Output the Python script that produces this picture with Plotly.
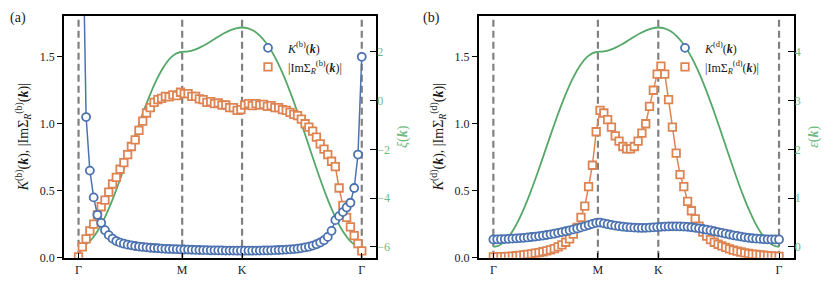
import numpy as np
import plotly.graph_objects as go

# ---------------- data ----------------
# high-symmetry path (path coordinate: |GM| = sqrt(3), |MK| = 1, |KG| = 2)
tick_pos = [0.0, 1.732, 2.732, 4.732]
tick_text = ["Γ", "M", "K", "Γ"]

# k-grid of the sampled points along Γ-M-K-Γ
k_pts = np.linspace(0.0, 4.732, 76)

# dispersion curve samples (path coordinate)
green_k = [0.0, 0.0866, 0.1732, 0.2598, 0.3464, 0.433, 0.5196, 0.6062, 0.6928, 0.7794, 0.866,
           0.9526, 1.0392, 1.1258, 1.2124, 1.299, 1.3856, 1.4722, 1.5588, 1.6454, 1.732,
           1.832, 1.932, 2.032, 2.132, 2.232, 2.332, 2.432, 2.532, 2.632, 2.732,
           2.832, 2.932, 3.032, 3.132, 3.232, 3.332, 3.432, 3.532, 3.632, 3.732,
           3.832, 3.932, 4.032, 4.132, 4.232, 4.332, 4.432, 4.532, 4.632, 4.732]
xi_vals = [-6.0, -5.951, -5.804, -5.564, -5.236, -4.828, -4.351, -3.816, -3.236, -2.626, -2.0,
           -1.374, -0.764, -0.184, 0.351, 0.828, 1.236, 1.564, 1.804, 1.951, 2.0,
           2.022, 2.085, 2.186, 2.316, 2.464, 2.618, 2.764, 2.885, 2.969, 3.0,
           2.965, 2.854, 2.659, 2.374, 2.0, 1.538, 0.996, 0.382, -0.289, -1.0,
           -1.733, -2.467, -3.182, -3.854, -4.464, -4.992, -5.422, -5.739, -5.934, -6.0]
eps_vals = [0.0, 0.0245, 0.098, 0.218, 0.382, 0.586, 0.8245, 1.092, 1.382, 1.687, 2.0,
            2.313, 2.618, 2.908, 3.1755, 3.414, 3.618, 3.782, 3.902, 3.9755, 4.0,
            4.011, 4.0425, 4.093, 4.158, 4.232, 4.309, 4.382, 4.4425, 4.4845, 4.5,
            4.4825, 4.427, 4.3295, 4.187, 4.0, 3.769, 3.498, 3.191, 2.8555, 2.5,
            2.1335, 1.7665, 1.409, 1.073, 0.768, 0.504, 0.289, 0.1305, 0.033, 0.0]

# panel (a)
K_b = [6.0, 2.7, 1.05, 0.65, 0.45, 0.32, 0.26, 0.205, 0.168, 0.142,
       0.124, 0.112, 0.104, 0.097, 0.092, 0.087, 0.083, 0.080, 0.077, 0.074,
       0.072, 0.070, 0.068, 0.066, 0.065, 0.064, 0.063, 0.062, 0.061, 0.060,
       0.059, 0.058, 0.057, 0.056, 0.056, 0.055, 0.055, 0.054, 0.054, 0.053,
       0.053, 0.053, 0.052, 0.052, 0.052, 0.052, 0.052, 0.053, 0.053, 0.054,
       0.054, 0.055, 0.056, 0.057, 0.058, 0.060, 0.062, 0.064, 0.067, 0.071,
       0.076, 0.082, 0.090, 0.100, 0.113, 0.130, 0.155, 0.200, 0.280, 0.310,
       0.340, 0.375, 0.410, 0.520, 0.770, 1.500]
Sigma_b = [0.005, 0.08, 0.14, 0.20, 0.25, 0.32, 0.38, 0.43, 0.49, 0.55,
           0.60, 0.66, 0.71, 0.77, 0.83, 0.88, 0.95, 1.02, 1.08, 1.12,
           1.16, 1.18, 1.19, 1.205, 1.20, 1.215, 1.21, 1.235, 1.225, 1.225,
           1.205, 1.205, 1.185, 1.18, 1.16, 1.165, 1.15, 1.155, 1.14, 1.14,
           1.12, 1.12, 1.10, 1.105, 1.14, 1.15, 1.135, 1.15, 1.14, 1.145,
           1.13, 1.135, 1.12, 1.12, 1.105, 1.10, 1.085, 1.07, 1.06, 1.035,
           1.00, 0.975, 0.945, 0.90, 0.85, 0.81, 0.77, 0.72, 0.68, 0.52,
           0.39, 0.30, 0.23, 0.165, 0.105, 0.05]

# panel (b)
K_d = [0.136, 0.137, 0.138, 0.139, 0.140, 0.142, 0.144, 0.146, 0.148, 0.151,
       0.154, 0.157, 0.161, 0.165, 0.169, 0.174, 0.179, 0.185, 0.191, 0.197,
       0.204, 0.211, 0.218, 0.226, 0.234, 0.243, 0.252, 0.260, 0.262, 0.256,
       0.250, 0.244, 0.239, 0.235, 0.231, 0.228, 0.226, 0.224, 0.223, 0.222,
       0.223, 0.224, 0.226, 0.228, 0.230, 0.232, 0.233, 0.234, 0.234, 0.233,
       0.232, 0.230, 0.227, 0.223, 0.219, 0.214, 0.209, 0.203, 0.197, 0.191,
       0.185, 0.179, 0.173, 0.167, 0.162, 0.157, 0.152, 0.148, 0.145, 0.142,
       0.140, 0.138, 0.137, 0.136, 0.136, 0.136]
Sigma_d = [0.005, 0.006, 0.007, 0.008, 0.010, 0.012, 0.014, 0.017, 0.020, 0.024,
           0.028, 0.033, 0.038, 0.044, 0.050, 0.058, 0.068, 0.080, 0.096, 0.115,
           0.14, 0.175, 0.225, 0.30, 0.385, 0.53, 0.69, 0.94, 1.10, 1.08,
           1.03, 0.975, 0.91, 0.87, 0.83, 0.812, 0.812, 0.83, 0.87, 0.93,
           1.00, 1.13, 1.25, 1.37, 1.43, 1.37, 1.18, 0.975, 0.78, 0.62,
           0.53, 0.42, 0.35, 0.29, 0.235, 0.19, 0.16, 0.135, 0.115, 0.10,
           0.088, 0.077, 0.065, 0.056, 0.048, 0.042, 0.036, 0.031, 0.027, 0.024,
           0.021, 0.018, 0.015, 0.013, 0.011, 0.01]

# ---------------- style ----------------
BLUE = "#4C72B0"
ORANGE = "#DD8452"
GREEN = "#55A868"
GREEN_TXT = "#6DBA80"
GREY = "#808080"
FONT = "Liberation Serif, DejaVu Serif, serif"
TXT = "#1a1a1a"

kb = "(<b><i>k</i></b>)"

fig = go.Figure()

def add_panel(xa, ya_base, ya_over, green_y, Kv, Sv, lab, legname):
    fig.add_trace(go.Scatter(x=green_k, y=green_y, mode="lines", line=dict(color=GREEN, width=1.8, shape="spline"),
                             xaxis=xa, yaxis=ya_base, showlegend=False, hoverinfo="skip"))
    fig.add_trace(go.Scatter(x=k_pts, y=Sv, mode="lines+markers", line=dict(color=ORANGE, width=1.5),
                             marker=dict(symbol="square", size=7.5, color="white", line=dict(color=ORANGE, width=1.8)),
                             xaxis=xa, yaxis=ya_over, showlegend=False))
    fig.add_trace(go.Scatter(x=k_pts, y=Kv, mode="lines+markers", line=dict(color=BLUE, width=1.5),
                             marker=dict(symbol="circle", size=8, color="white", line=dict(color=BLUE, width=1.8)),
                             xaxis=xa, yaxis=ya_over, showlegend=False))
    # legend entries (markers only)
    fig.add_trace(go.Scatter(x=[None], y=[None], mode="markers",
                             marker=dict(symbol="circle", size=8, color="white", line=dict(color=BLUE, width=1.8)),
                             name="<i>K</i><sup>(%s)</sup>%s" % (lab, kb),
                             xaxis=xa, yaxis=ya_over, legend=legname))
    fig.add_trace(go.Scatter(x=[None], y=[None], mode="markers",
                             marker=dict(symbol="square", size=7.5, color="white", line=dict(color=ORANGE, width=1.8)),
                             name="|ImΣ<sub><i>R</i></sub><sup>(%s)</sup>%s|" % (lab, kb),
                             xaxis=xa, yaxis=ya_over, legend=legname))

add_panel("x", "y", "y2", xi_vals, K_b, Sigma_b, "b", "legend")
add_panel("x2", "y3", "y4", eps_vals, K_d, Sigma_d, "d", "legend2")

H = 282.0
W = 830.0
ydom = [(H - 256) / H, (H - 8) / H]

xcommon = dict(range=[-0.243, 4.975], tickvals=tick_pos, ticktext=tick_text, ticks="inside", ticklen=5,
               tickwidth=1.2, tickcolor="black", showline=True, mirror=True, linecolor="black", linewidth=1.5,
               showgrid=False, zeroline=False, tickfont=dict(family=FONT, size=12, color=TXT))

left_common = dict(range=[0, 1.806], tickvals=[0, 0.5, 1.0, 1.5], tickformat=".1f", ticks="outside", ticklen=5,
                   tickwidth=1.2, tickcolor="black", showline=True, mirror=True, linecolor="black", linewidth=1.5,
                   showgrid=False, zeroline=False, side="left",
                   tickfont=dict(family=FONT, size=12, color=TXT))

right_common = dict(ticks="inside", ticklen=6, tickwidth=1.2, tickcolor="black", showline=False,
                    showgrid=False, zeroline=False, side="right",
                    tickfont=dict(family=FONT, size=12, color=GREEN_TXT))

fig.update_layout(
    width=830, height=282, margin=dict(l=0, r=0, t=0, b=0),
    paper_bgcolor="white", plot_bgcolor="white",
    font=dict(family=FONT, color=TXT),
    xaxis=dict(domain=[56 / W, 368.3 / W], anchor="y", **xcommon),
    xaxis2=dict(domain=[470.7 / W, 785.7 / W], anchor="y3", **xcommon),
    yaxis=dict(domain=ydom, anchor="x", range=[-6.44, 3.48], tickvals=[-6, -4, -2, 0, 2],
               title=dict(text="<i>ξ</i>" + kb, font=dict(family=FONT, size=14, color=GREEN_TXT), standoff=8),
               **right_common),
    yaxis2=dict(overlaying="y", anchor="x",
                title=dict(text="<i>K</i><sup>(b)</sup>%s, |ImΣ<sub><i>R</i></sub><sup>(b)</sup>%s|" % (kb, kb),
                           font=dict(family=FONT, size=14, color=TXT), standoff=8),
                **left_common),
    yaxis3=dict(domain=ydom, anchor="x2", range=[-0.22, 4.74], tickvals=[0, 1, 2, 3, 4],
                title=dict(text="<i>ε</i>" + kb, font=dict(family=FONT, size=14, color=GREEN_TXT), standoff=8),
                **right_common),
    yaxis4=dict(overlaying="y3", anchor="x2",
                title=dict(text="<i>K</i><sup>(d)</sup>%s, |ImΣ<sub><i>R</i></sub><sup>(d)</sup>%s|" % (kb, kb),
                           font=dict(family=FONT, size=14, color=TXT), standoff=8),
                **left_common),
    legend=dict(x=240 / W, y=1 - 26 / H, xanchor="left", yanchor="top", bgcolor="rgba(0,0,0,0)",
                font=dict(family=FONT, size=12, color=TXT), tracegroupgap=0),
    legend2=dict(x=657 / W, y=1 - 26 / H, xanchor="left", yanchor="top", bgcolor="rgba(0,0,0,0)",
                 font=dict(family=FONT, size=12, color=TXT), tracegroupgap=0),
    showlegend=True,
)

shapes = []
for xr, yr in (("x", "y domain"), ("x2", "y3 domain")):
    for p in tick_pos:
        shapes.append(dict(type="line", xref=xr, yref=yr, x0=p, x1=p, y0=0, y1=1, layer="below",
                           line=dict(color=GREY, width=2.2, dash="7px,4px")))
fig.update_layout(shapes=shapes)

fig.add_annotation(text="(a)", xref="paper", yref="paper", x=0, y=1.0, xanchor="left", yanchor="top",
                   showarrow=False, font=dict(family=FONT, size=14, color=TXT))
fig.add_annotation(text="(b)", xref="paper", yref="paper", x=413 / W, y=1.0, xanchor="left", yanchor="top",
                   showarrow=False, font=dict(family=FONT, size=14, color=TXT))

fig.write_html("out.html")
